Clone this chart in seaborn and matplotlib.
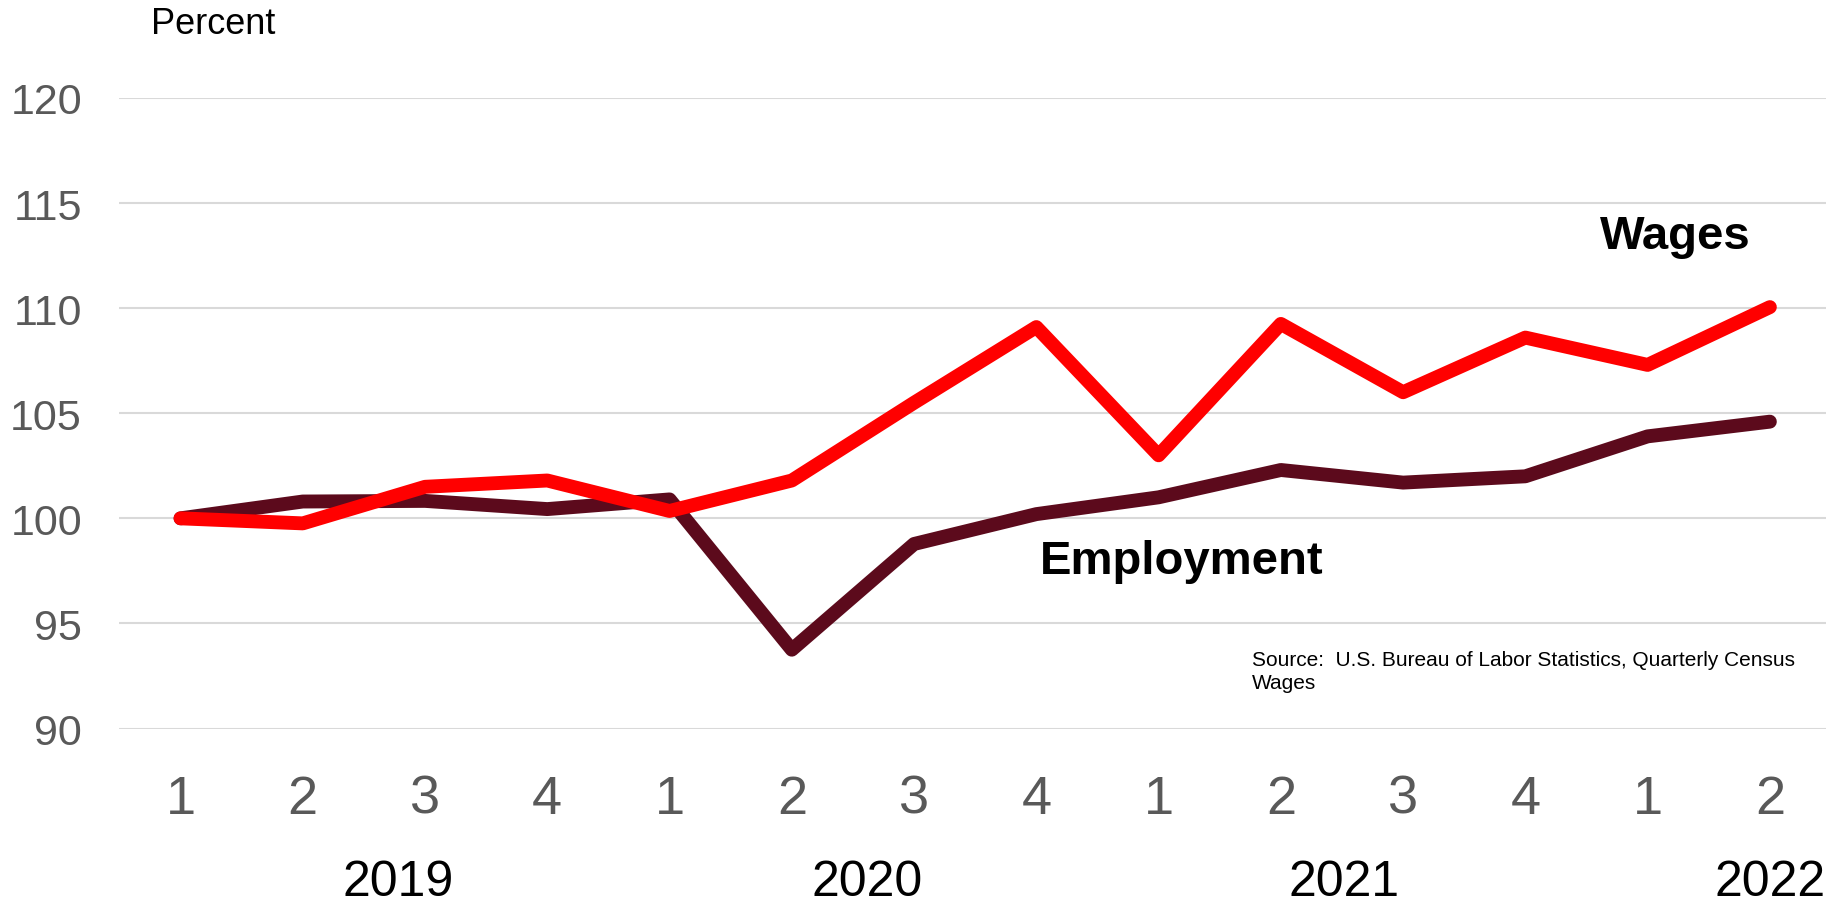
import matplotlib
matplotlib.use("Agg")
import matplotlib.pyplot as plt
import matplotlib.transforms as mtransforms
import seaborn as sns
import pandas as pd
import numpy as np

# ---- data ----
quarters = ["1", "2", "3", "4", "1", "2", "3", "4", "1", "2", "3", "4", "1", "2"]
years = ["2019", "2020", "2021", "2022"]
year_label_pos = [1.78, 5.62, 9.52, 13.0]
wages = [100.0, 99.76, 101.5, 101.8, 100.35, 101.8, 105.5, 109.1, 103.0, 109.25, 106.0, 108.6, 107.3, 110.05]
employment = [100.0, 100.8, 100.83, 100.44, 100.9, 93.75, 98.78, 100.2, 101.0, 102.3, 101.7, 102.0, 103.9, 104.6]
series_colors = {"Wages": "#FF0000", "Employment": "#5C0A1C"}
yticks = [90, 95, 100, 105, 110, 115, 120]

idx = list(range(len(quarters)))
df = pd.DataFrame({
    "pos": idx * 2,
    "value": employment + wages,
    "series": ["Employment"] * len(idx) + ["Wages"] * len(idx),
})

sns.set_theme(style="white")
plt.rcParams["font.family"] = ["Liberation Sans", "DejaVu Sans"]

W, H = 1826, 903
left_px, right_px = 119.4, 1831.0
fig = plt.figure(figsize=(W / 100, H / 100), dpi=100)
ax = fig.add_axes([left_px / W, (H - 729.5) / H, (right_px - left_px) / W, (729.5 - 99) / H])

sns.lineplot(data=df, x="pos", y="value", hue="series", palette=series_colors,
             hue_order=["Employment", "Wages"], sort=False, estimator=None,
             linewidth=10, ax=ax, legend=False)
for ln in ax.get_lines():
    ln.set_solid_capstyle("round")
    ln.set_solid_joinstyle("round")

ax.set_ylim(90, 120)
ax.set_xlim(-0.5, 13.5)
ax.set_yticks(yticks)
ax.set_yticklabels([str(v) for v in yticks])
ax.set_xticks(idx)
ax.set_xticklabels(quarters)
ax.yaxis.grid(True, color="#D9D9D9", linewidth=1.5)
ax.xaxis.grid(False)
ax.set_axisbelow(True)
for s in ax.spines.values():
    s.set_visible(False)
ax.tick_params(axis="y", length=0, pad=27, labelsize=31, labelcolor="#595959")
ax.tick_params(axis="x", length=0, pad=32.5, labelsize=39, labelcolor="#595959")
ax.set_xlabel("")
ax.set_ylabel("")

# year labels
trans = mtransforms.blended_transform_factory(ax.transData, fig.transFigure)
for yr, p in zip(years, year_label_pos):
    ax.text(p, 1 - 883 / H, yr, transform=trans, ha="center", va="center",
            fontsize=36, color="black", clip_on=False)

fig.text(213 / W, 1 - 24 / H, "Percent", ha="center", va="center", fontsize=26, color="black")
fig.text(1675 / W, 1 - 237 / H, "Wages", ha="center", va="center", fontsize=34,
         fontweight="bold", color="black")
fig.text(1040 / W, 1 - 562 / H, "Employment", ha="left", va="center", fontsize=34,
         fontweight="bold", color="black")
fig.text(1252 / W, 1 - 672 / H, "Source:  U.S. Bureau of Labor Statistics, Quarterly Census\nWages",
         ha="left", va="center", fontsize=15, color="black", linespacing=1.25)

fig.savefig("out.png", dpi=100, facecolor="white")
